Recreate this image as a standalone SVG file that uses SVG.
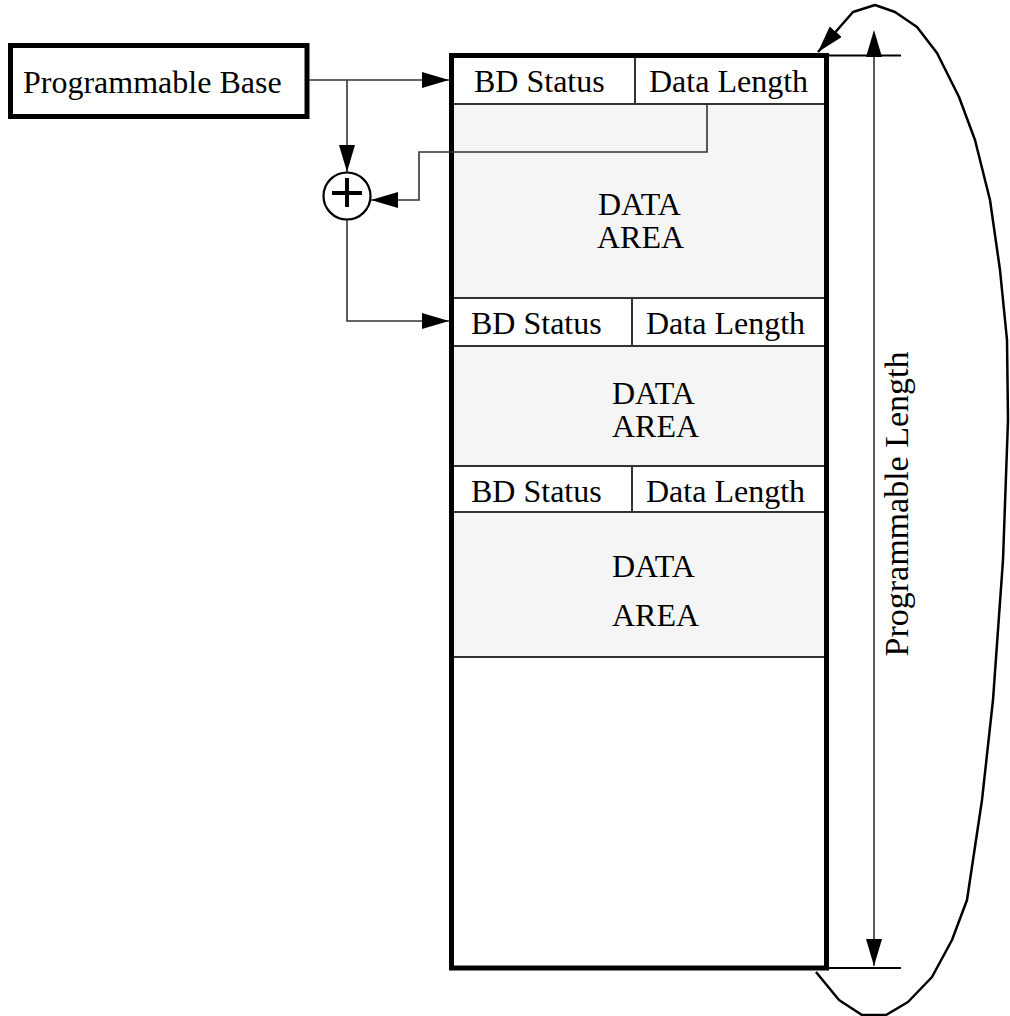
<svg xmlns="http://www.w3.org/2000/svg" width="1010" height="1016" viewBox="0 0 1010 1016">
<defs>
<marker id="ah" viewBox="0 0 27 16" refX="27" refY="8" markerWidth="27" markerHeight="16" markerUnits="userSpaceOnUse" orient="auto">
<path d="M0,0 L27,8 L0,16 Z" fill="#000"/>
</marker>
<marker id="ahs" viewBox="0 0 27 16" refX="0" refY="8" markerWidth="27" markerHeight="16" markerUnits="userSpaceOnUse" orient="auto-start-reverse">
<path d="M0,0 L27,8 L0,16 Z" fill="#000"/>
</marker>
<style>
text{font-family:"Liberation Serif","Times New Roman",serif;font-size:32px;fill:#000}
.c{fill:none;stroke:#333;stroke-width:1.6}
.div{stroke:#333;stroke-width:2;fill:none}
.area{fill:#f5f5f5}
.thick{fill:none;stroke:#000;stroke-width:5}
</style>
</defs>
<rect width="1010" height="1016" fill="#fff"/>

<g id="programmable-base">
<rect x="10.5" y="45.5" width="296.5" height="71" class="thick" fill="#fff"/>
<text x="23" y="93">Programmable Base</text>
</g>

<g id="adder">
<circle cx="347" cy="196" r="23.5" fill="#fff" stroke="#000" stroke-width="2.2"/>
<path d="M332,193 H362 M347,178 V207" stroke="#000" stroke-width="4"/>
</g>

<g id="buffer-ring">
<rect class="area" x="451" y="104" width="375" height="194"/>
<rect class="area" x="451" y="346" width="375" height="120"/>
<rect class="area" x="451" y="512" width="375" height="145"/>
<path class="div" d="M451,104 H826 M451,298 H826 M451,346 H826 M451,466 H826 M451,512 H826 M451,657 H826 M635,55 V104 M632,298 V346 M632,466 V512"/>
<text x="474" y="92">BD Status</text>
<text x="649" y="92">Data Length</text>
<text x="598" y="215">DATA</text>
<text x="597" y="248">AREA</text>
<text x="471" y="334">BD Status</text>
<text x="646" y="334">Data Length</text>
<text x="612" y="404">DATA</text>
<text x="612" y="437">AREA</text>
<text x="471" y="502">BD Status</text>
<text x="646" y="502">Data Length</text>
<text x="612" y="577">DATA</text>
<text x="612" y="626">AREA</text>
<rect x="451.5" y="55.5" width="375" height="912.5" class="thick"/>
</g>

<g id="programmable-length">
<path d="M829,55.5 H901 M829,968 H901" stroke="#000" stroke-width="2"/>
<path d="M874,57 V966" class="c" marker-start="url(#ahs)" marker-end="url(#ah)"/>
<text transform="translate(908,504) rotate(-90)" text-anchor="middle" style="font-size:34px">Programmable Length</text>
</g>

<g id="connectors">
<path class="c" d="M309,80 H449" marker-end="url(#ah)"/>
<path class="c" d="M347,80 V172" marker-end="url(#ah)"/>
<path class="c" d="M707,104 V152 H419 V200 H371" marker-end="url(#ah)"/>
<path class="c" d="M347,220 V321 H449" marker-end="url(#ah)"/>
<path fill="none" stroke="#000" stroke-width="2.5" stroke-linejoin="round" d="M816,972 L839,1000 L862,1015 L886,1015 L908,1002 L932,977 L952,940 L967,900 L982,800 L993,700 L1003,560 L1008,420 L1007,340 L1000,270 L990,200 L975,140 L959,97 L937,53 L917,27 L895,12 L875,5 L853,12 L818,52" marker-end="url(#ah)"/>
</g>
</svg>
